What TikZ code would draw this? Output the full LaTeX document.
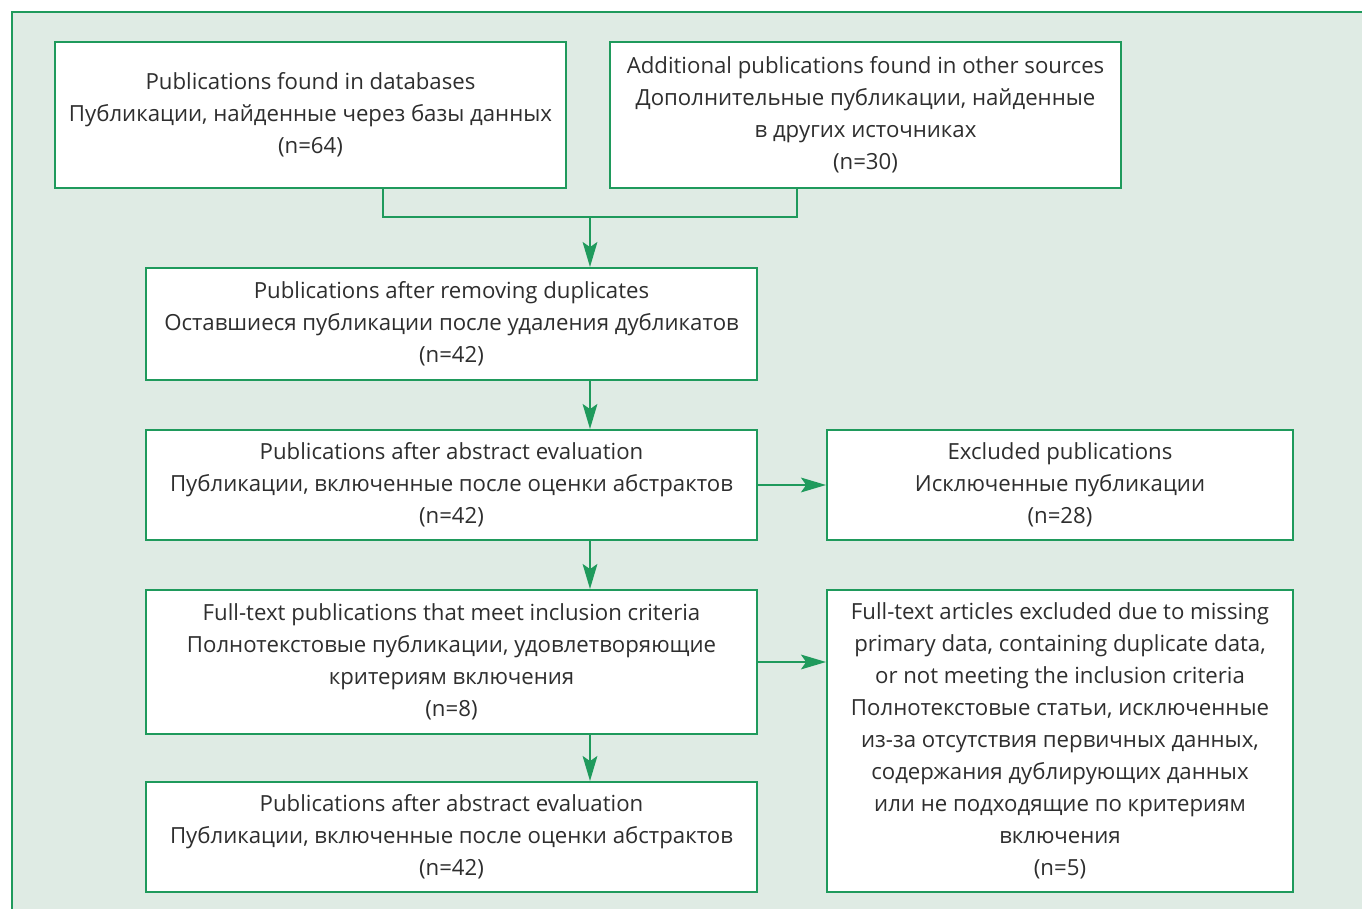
\documentclass[tikz,border=0pt]{standalone}
\usepackage{fontspec}
\setmainfont{Open Sans}
\usepackage{tikz}
\usetikzlibrary{positioning, arrows.meta}
\definecolor{framegreen}{HTML}{1F9A5C}
\definecolor{mintbg}{HTML}{DFEBE4}
\definecolor{textgray}{HTML}{2E2E2E}
\tikzstyle{pub}=[%
      rectangle, draw=framegreen, line width=1pt, fill=white,
      text=textgray, align=center, inner sep=0pt,
      font=\fontsize{11.1}{16}\selectfont
]
\tikzstyle{flow}=[%
      color=framegreen, line width=0.8pt
]

\begin{document}
\begin{tikzpicture}[x=0.5pt, y=-0.5pt,
    -{Stealth[length=4.4mm,width=2.6mm,inset=0.9mm]}
  ]
    \useasboundingbox (0,0) rectangle (1362,909);
    \fill[mintbg, draw=framegreen, line width=1pt, -] (12,12) rectangle (1390,940);
    % top row
    \node[pub, minimum width=255.5pt, minimum height=73pt] (db) at (310.5,115)
      {Publications found in databases\\Публикации, найденные через базы данных\\(n=64)};
    \node[pub, minimum width=255.5pt, minimum height=73pt] (other) at (865.5,115)
      {Additional publications found in other sources\\Дополнительные публикации, найденные\\в других источниках\\(n=30)};
    % main column
    \node[pub, minimum width=305.5pt, minimum height=56pt] (nodup) at (451.5,324)
      {Publications after removing duplicates\\Оставшиеся публикации после удаления дубликатов\\(n=42)};
    \node[pub, minimum width=305.5pt, minimum height=55pt] (abstr) [below=24pt of nodup]
      {Publications after abstract evaluation\\Публикации, включенные после оценки абстрактов\\(n=42)};
    \node[pub, minimum width=305.5pt, minimum height=72pt] (fulltext) [below=24pt of abstr]
      {Full-text publications that meet inclusion criteria\\Полнотекстовые публикации, удовлетворяющие\\критериям включения\\(n=8)};
    \node[pub, minimum width=305.5pt, minimum height=55pt] (final) [below=23pt of fulltext]
      {Publications after abstract evaluation\\Публикации, включенные после оценки абстрактов\\(n=42)};
    % exclusions
    \node[pub, minimum width=233pt, minimum height=55pt] (excl) [right=34pt of abstr]
      {Excluded publications\\Исключенные публикации\\(n=28)};
    \node[pub, minimum width=233pt, minimum height=151pt] (exclft) [below right=0pt and 34pt of fulltext.north east]
      {Full-text articles excluded due to missing\\primary data, containing duplicate data,\\or not meeting the inclusion criteria\\Полнотекстовые статьи, исключенные\\из-за отсутствия первичных данных,\\содержания дублирующих данных\\или не подходящие по критериям\\включения\\(n=5)};

    \coordinate (dbdrop) at (383,0);
    \coordinate (otherdrop) at (797,0);
    \coordinate (join) at (590,217);

    \draw[flow, -] (db.south -| dbdrop) |- (join) -| (other.south -| otherdrop);
    \path[flow] (join) edge (nodup.north -| join)
          (nodup.south -| join) edge (abstr.north -| join)
          (abstr.south -| join) edge (fulltext.north -| join)
          (fulltext.south -| join) edge (final.north -| join)
          (abstr.east) edge (excl.west)
          (fulltext.east) edge (fulltext.east -| exclft.west)
    ;
  \end{tikzpicture}
\end{document}
